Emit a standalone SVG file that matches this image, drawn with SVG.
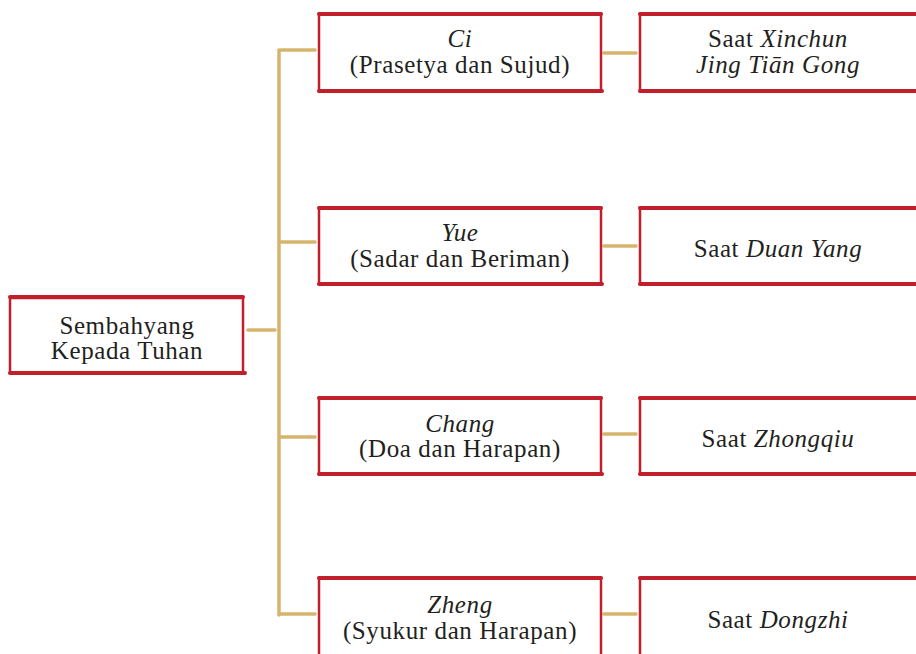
<svg xmlns="http://www.w3.org/2000/svg" width="916" height="654" viewBox="0 0 916 654">
<style>
.box{fill:#fff;stroke:#c21f2c;stroke-width:2.5}
.tb{stroke:#c21f2c;stroke-width:4;stroke-linecap:round}
.t{font-family:"Liberation Serif",serif;font-size:25px;letter-spacing:0.6px;fill:#231f20;text-anchor:middle}
.i{font-style:italic}
.c{stroke:#d6b46c;stroke-width:3.5;fill:none;stroke-linecap:round}
</style>
<rect width="916" height="654" fill="#fff"/>
<g id="connectors">
<path class="c" d="M279 50 V615"/>
<path class="c" d="M248 330 H275"/>
<path class="c" d="M281 50 H315"/>
<path class="c" d="M281 242 H315"/>
<path class="c" d="M281 437 H315"/>
<path class="c" d="M281 614 H315"/>
<path class="c" d="M604 53 H636"/>
<path class="c" d="M604 246 H636"/>
<path class="c" d="M604 434 H636"/>
<path class="c" d="M604 614 H636"/>
</g>
<g id="root">
<rect class="box" x="10" y="298" width="233" height="75"/>
<path class="tb" d="M10 297 H243 M10 373 H245"/>
<text class="t" x="127" y="334">Sembahyang</text>
<text class="t" x="127" y="359">Kepada Tuhan</text>
</g>
<g id="ci">
<rect class="box" x="319" y="14" width="282" height="77"/>
<path class="tb" d="M319 14 H601 M319 91 H602"/>
<text class="t i" x="460" y="47">Ci</text>
<text class="t" x="460" y="73">(Prasetya dan Sujud)</text>
</g>
<g id="xinchun">
<rect class="box" x="640" y="14" width="280" height="77"/>
<path class="tb" d="M640 14 H916 M640 91 H916"/>
<text class="t" x="778" y="47">Saat <tspan class="i">Xinchun</tspan></text>
<text class="t i" x="778" y="73">Jing Tiān Gong</text>
</g>
<g id="yue">
<rect class="box" x="319" y="208" width="282" height="76"/>
<path class="tb" d="M319 208 H601 M319 284 H602"/>
<text class="t i" x="460" y="241">Yue</text>
<text class="t" x="460" y="267">(Sadar dan Beriman)</text>
</g>
<g id="duanyang">
<rect class="box" x="640" y="208" width="280" height="76"/>
<path class="tb" d="M640 208 H916 M640 284 H916"/>
<text class="t" x="778" y="257">Saat <tspan class="i">Duan Yang</tspan></text>
</g>
<g id="chang">
<rect class="box" x="319" y="398" width="282" height="76"/>
<path class="tb" d="M319 398 H601 M319 474 H602"/>
<text class="t i" x="460" y="432">Chang</text>
<text class="t" x="460" y="457">(Doa dan Harapan)</text>
</g>
<g id="zhongqiu">
<rect class="box" x="640" y="398" width="280" height="76"/>
<path class="tb" d="M640 398 H916 M640 474 H916"/>
<text class="t" x="778" y="447">Saat <tspan class="i">Zhongqiu</tspan></text>
</g>
<g id="zheng">
<rect class="box" x="319" y="578" width="282" height="90"/>
<path class="tb" d="M319 578 H601"/>
<text class="t i" x="460" y="613">Zheng</text>
<text class="t" x="460" y="639">(Syukur dan Harapan)</text>
</g>
<g id="dongzhi">
<rect class="box" x="640" y="578" width="280" height="90"/>
<path class="tb" d="M640 578 H916"/>
<text class="t" x="778" y="628">Saat <tspan class="i">Dongzhi</tspan></text>
</g>
</svg>
